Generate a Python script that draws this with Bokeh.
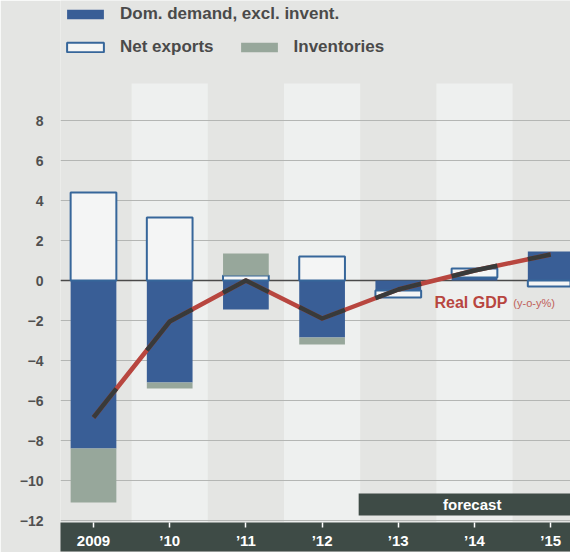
import numpy as np
from bokeh.plotting import figure
from bokeh.models import FixedTicker, Legend, LegendItem, Span
from bokeh.embed import file_html
from bokeh.resources import INLINE
from bokeh.core.properties import value

# ---- data (percentage-point contributions) ----
years = ["2009", "\u201910", "\u201911", "\u201912", "\u201913", "\u201914", "\u201915"]
dom_demand = [-8.4, -5.1, -1.45, -2.85, -0.5, 0.15, 1.45]
net_exports = [4.4, 3.15, 0.25, 1.2, -0.35, 0.45, -0.3]
inventories = [-2.7, -0.3, 1.1, -0.35, 0.0, 0.0, 0.0]
real_gdp = [-6.85, -2.05, 0.0, -1.9, -0.45, 0.5, 1.3]
y_ticks = [-12, -10, -8, -6, -4, -2, 0, 2, 4, 6, 8]

FONT = "Liberation Sans"
PAGE = "#e4e5e3"
STRIPE = "#eef0ef"
BLUE = "#395e96"
OUTLINE = "#36669a"
GREY = "#97a79b"
RED = "#b8463f"
DARK = "#3e4b46"

x = np.arange(len(years), dtype=float)
pos = np.zeros(len(years))
neg = np.zeros(len(years))


def stack(vals):
    v = np.array(vals, dtype=float)
    bottom = np.where(v >= 0, pos, neg)
    top = bottom + v
    pos[:] = np.where(v >= 0, top, pos)
    neg[:] = np.where(v < 0, top, neg)
    return bottom, top


p = figure(width=570, height=552, x_range=(-0.433, 6.26), y_range=(-12.1, 14.0),
           output_backend="svg", toolbar_location=None,
           min_border_left=60, min_border_right=0, min_border_top=0, min_border_bottom=30)
p.background_fill_color = PAGE
p.border_fill_color = PAGE
p.outline_line_color = None

# alternating light columns
odd = x[1::2]
p.quad(left=odd - 0.5, right=odd + 0.5, bottom=-12.1, top=9.85,
       fill_color=STRIPE, line_color=None, level="image")

p.add_layout(Span(location=0, dimension="width", line_color="#4a4a4a", line_width=1.3,
                  level="underlay"))

W = 0.6
b, t = stack(dom_demand)
r_dom = p.vbar(x=x, width=W, bottom=b, top=t, fill_color=BLUE, line_color=None)
b, t = stack(net_exports)
r_net = p.vbar(x=x, width=W, bottom=b, top=t, fill_color="#f4f5f5",
               line_color=OUTLINE, line_width=2)
b, t = stack(inventories)
r_inv = p.vbar(x=x, width=W, bottom=b, top=t, fill_color=GREY, line_color=None)

# GDP line (red, darker where it crosses the bars)
p.line(x, real_gdp, line_color=RED, line_width=4.5, line_join="round")
segs_x, segs_y = [], []
for xi in x:
    lo, hi = max(xi - W / 2, x[0]), min(xi + W / 2, x[-1])
    xs = [lo] + [v for v in x if lo < v < hi] + [hi]
    segs_x.append(xs)
    segs_y.append(list(np.interp(xs, x, real_gdp)))
p.multi_line(segs_x, segs_y, line_color="#383a3a", line_width=4.5, line_join="round")

p.text(x=[4.475], y=[-1.1], text=["Real GDP"], text_font=value(FONT), text_font_style="bold",
       text_font_size="16px", text_color=RED, text_baseline="middle")
p.text(x=[5.51], y=[-1.1], text=["(y-o-y%)"], text_font=value(FONT),
       text_font_size="11px", text_color="#c0605a", text_baseline="middle")

# forecast band
p.quad(left=[3.48], right=[7.0], bottom=[-11.75], top=[-10.65], fill_color=DARK, line_color=None)
p.text(x=[4.97], y=[-11.2], text=["forecast"], text_font=value(FONT), text_font_style="bold",
       text_font_size="15px", text_color="white", text_align="center", text_baseline="middle")

# axes
p.xgrid.visible = False
p.ygrid.ticker = FixedTicker(ticks=y_ticks)
p.ygrid.grid_line_color = "#b4b6b4"
p.ygrid.grid_line_width = 1

p.yaxis.ticker = FixedTicker(ticks=y_ticks)
p.yaxis.axis_line_color = None
p.yaxis.major_tick_line_color = None
p.yaxis.minor_tick_line_color = None
p.yaxis.major_label_standoff = 11
p.yaxis.major_label_text_font = FONT
p.yaxis.major_label_text_font_style = "bold"
p.yaxis.major_label_text_font_size = "14px"
p.yaxis.major_label_text_color = "#505050"

p.xaxis.ticker = FixedTicker(ticks=list(range(len(years))))
p.xaxis.major_label_overrides = {i: years[i] for i in range(len(years))}
p.xaxis.axis_line_color = None
p.xaxis.minor_tick_line_color = None
p.xaxis.major_tick_line_color = "white"
p.xaxis.major_tick_line_width = 1.5
p.xaxis.major_tick_in = 0
p.xaxis.major_tick_out = 5
p.xaxis.major_label_standoff = 4
p.xaxis.major_label_text_font = FONT
p.xaxis.major_label_text_font_style = "bold"
p.xaxis.major_label_text_font_size = "15px"
p.xaxis.major_label_text_color = "white"
p.xaxis.background_fill_color = DARK
p.xaxis.background_fill_alpha = 1.0


def mk_legend(items, loc):
    lg = Legend(items=items, location=loc, orientation="horizontal",
                glyph_width=46, glyph_height=12, label_height=12, label_standoff=12,
                padding=2, margin=0, spacing=22,
                background_fill_alpha=0, border_line_alpha=0,
                label_text_font=FONT, label_text_font_style="bold",
                label_text_font_size="17px", label_text_color="#4a4a4a")
    return lg


p.add_layout(mk_legend([LegendItem(label="Dom. demand, excl. invent.", renderers=[r_dom])],
                       (0, 496)))
p.add_layout(mk_legend([LegendItem(label="Net exports", renderers=[r_net]),
                        LegendItem(label="Inventories", renderers=[r_inv])], (0, 463)))

open("out.html", "w").write(file_html(p, INLINE))
